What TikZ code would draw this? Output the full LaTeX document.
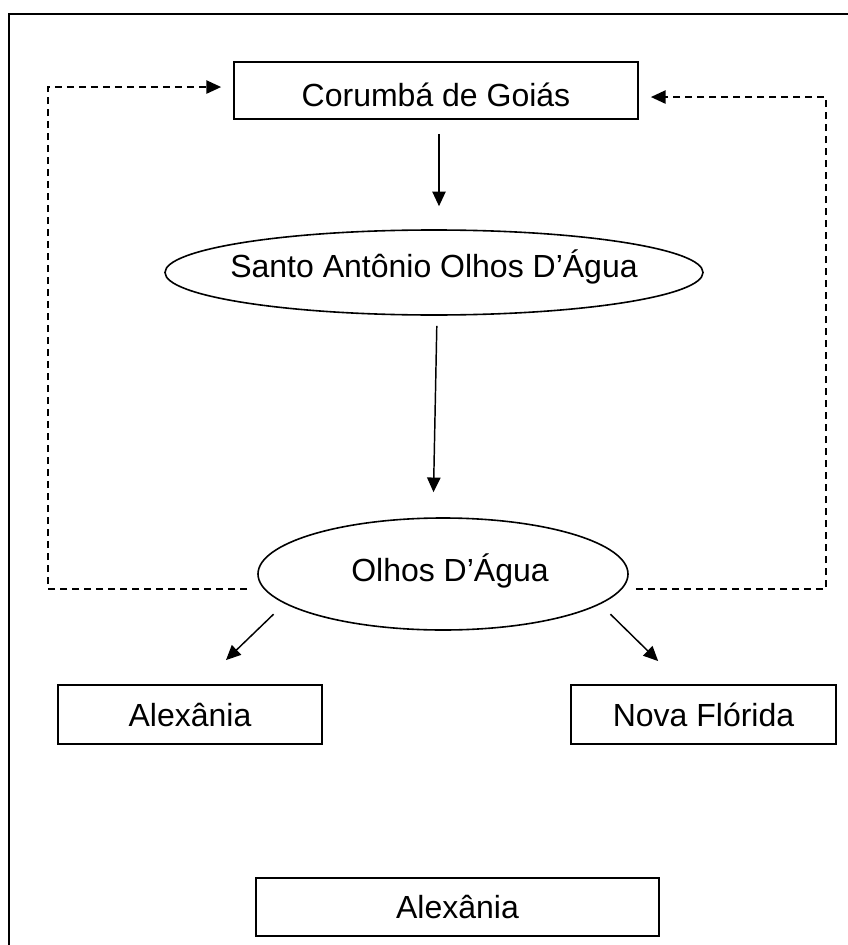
\documentclass[tikz,border=0pt]{standalone}
\usepackage{fontspec}
\setmainfont{Liberation Sans}
\usetikzlibrary{shapes.geometric}
\usetikzlibrary{arrows.meta}

\begin{document}
\begin{tikzpicture}[x=0.75pt, y=-0.75pt, font=\fontsize{24}{28}\selectfont,
  caixa/.style={draw, line width=1.4pt, rectangle, inner sep=0pt, minimum width=#1},
  elipse/.style={draw, line width=1.2pt, ellipse, inner sep=0pt},
  seta/.style={line width=1.1pt, -{Triangle[length=11pt,width=10pt]}},
  tracejada/.style={seta, line width=1pt, dash pattern=on 5.2pt off 3.8pt}]
  \useasboundingbox (0,0) rectangle (848,945);
  \fill[white] (0,0) rectangle (848,945);
  \clip (0,0) rectangle (848,945);

  % outer frame (cut by the page)
  \draw[line width=1.5pt] (9,960) -- (9,14) -- (870,14);

    %----------------------------------------------------------
    % Places
    %----------------------------------------------------------
  \node[caixa=303pt, minimum height=42.75pt, text height=29pt, text depth=5pt] (corumba) at (436,90.5) {Corumbá de Goiás};
  \node[elipse, minimum width=403.5pt, minimum height=63.75pt, text height=13.2pt, text depth=5pt] (santo) at (434,272.5)
    {\makebox[0pt]{Santo Antônio Olhos D’Água}};
  \node[elipse, minimum width=277.5pt, minimum height=84pt, text height=16.2pt, text depth=5pt] (olhos) at (443,574)
    {\makebox[0pt]{\hspace*{10.5pt}Olhos D’Água}};
  \node[caixa=198pt, minimum height=44.25pt] (alex) at (190,714.5) {Alexânia};
  \node[caixa=198.75pt, minimum height=44.25pt] (nova) at (703.5,714.5) {Nova Flórida};
  \node[caixa=302.25pt, minimum height=43.5pt] (alexb) at (457.5,907) {Alexânia};

    %----------------------------------------------------------
    % Arrows
    %----------------------------------------------------------
  \draw[seta, shorten <=10.5pt, shorten >=17.25pt] ([xshift=2.25pt]corumba.south) -- ([xshift=3.75pt]santo.north);
  \draw[seta, shorten <=7.5pt, shorten >=18.75pt] ([xshift=2.25pt]santo.south) -- ([xshift=-7.5pt]olhos.north);
  \draw[seta] ([xshift=-28.5pt]olhos.south west) -- ([xshift=27pt, yshift=18pt]alex.north);
  \draw[seta] ([xshift=27pt]olhos.south east) -- ([xshift=-34pt, yshift=17.25pt]nova.north);

  % dashed returns to the top
  \draw[tracejada, shorten >=9pt] ([shift={(-7.5pt,-11.25pt)}]olhos.west) -- (48,589) |- ([yshift=2.6pt]corumba.west);
  \draw[tracejada, shorten >=9pt] ([shift={(5.25pt,-11.25pt)}]olhos.east) -- (826,589) |- ([yshift=-4.9pt]corumba.east);
\end{tikzpicture}
\end{document}
